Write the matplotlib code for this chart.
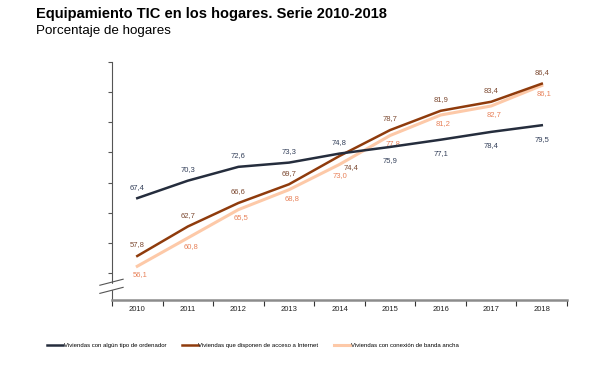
import matplotlib.pyplot as plt

years = [2010, 2011, 2012, 2013, 2014, 2015, 2016, 2017, 2018]
ordenador = [67.4, 70.3, 72.6, 73.3, 74.8, 75.9, 77.1, 78.4, 79.5]
internet = [57.8, 62.7, 66.6, 69.7, 74.4, 78.7, 81.9, 83.4, 86.4]
banda = [56.1, 60.8, 65.5, 68.8, 73.0, 77.8, 81.2, 82.7, 86.1]

names = ['Viviendas con algún tipo de ordenador',
         'Viviendas que disponen de acceso a Internet',
         'Viviendas con conexión de banda ancha']

c_dark = '#252d3d'
c_brown = '#8f3b0c'
c_peach = '#fdc9a8'

plt.rcParams['font.family'] = ['Liberation Sans', 'DejaVu Sans']

fig = plt.figure(figsize=(6.1, 3.75), dpi=100)
ax = fig.add_axes([0.1836, 0.2, 0.746, 0.6347])

ax.plot(years, banda, color=c_peach, lw=2.2, label=names[2], zorder=2)
ax.plot(years, internet, color=c_brown, lw=1.8, label=names[1], zorder=3)
ax.plot(years, ordenador, color=c_dark, lw=1.8, label=names[0], zorder=4)

ax.set_xlim(2009.5, 2018.5)
ax.set_ylim(50.5, 90)

def fmt(v):
    return ('%.1f' % v).replace('.', ',')

# data labels
for i, (x, v) in enumerate(zip(years, ordenador)):
    dy = 8 if x <= 2014 else -10
    ax.annotate(fmt(v), (x, v), xytext=(0, dy), textcoords='offset points',
                ha='center', va='center', fontsize=5.5, color='#34405a')
for x, v in zip(years, internet):
    if x == 2014:
        off = (8, -8)
    else:
        off = (0, 8)
    ax.annotate(fmt(v), (x, v), xytext=off, textcoords='offset points',
                ha='center', va='center', fontsize=5.5, color='#7d4a32')
for x, v in zip(years, banda):
    off = (2, -6) if x != 2014 else (0, -8)
    ax.annotate(fmt(v), (x, v), xytext=off, textcoords='offset points',
                ha='center', va='center', fontsize=5.5, color='#e8825a')

# axes styling
for s in ['top', 'right']:
    ax.spines[s].set_visible(False)
ax.spines['left'].set_color('#555555')
ax.spines['left'].set_linewidth(0.8)
ax.spines['bottom'].set_color('#8c8c8c')
ax.spines['bottom'].set_linewidth(1.8)

ax.set_yticks([55, 60, 65, 70, 75, 80, 85, 90])
ax.set_yticklabels([])
ax.tick_params(axis='y', length=3, width=0.8, color='#555555')

ax.set_xticks(years)
ax.set_xticklabels([str(y) for y in years], fontsize=5.5, color='#222222')
ax.set_xticks([y + 0.5 for y in years[:-1]] + [2009.5, 2018.5], minor=True)
ax.tick_params(axis='x', which='major', length=0, pad=4)
ax.tick_params(axis='x', which='minor', length=4, width=0.8, color='#333333')

# axis break marks
ax.fill_between([2009.45, 2009.55], 52.3, 53.2, color='white', zorder=5, clip_on=False)
ax.plot([2009.26, 2009.72], [52.95, 53.95], color='#555555', lw=0.8, clip_on=False, zorder=6)
ax.plot([2009.26, 2009.72], [51.6, 52.6], color='#555555', lw=0.8, clip_on=False, zorder=6)

# legend
handles, labels = ax.get_legend_handles_labels()
order = [2, 1, 0]
fig.legend([handles[i] for i in order], [labels[i] for i in order],
           loc='center left', bbox_to_anchor=(0.068, 0.08), ncol=3, frameon=False,
           fontsize=4.3, handlelength=2.7, handletextpad=0.1, columnspacing=2.6)

fig.text(0.059, 0.962, 'Equipamiento TIC en los hogares. Serie 2010-2018',
         fontsize=10.5, fontweight='bold', va='center')
fig.text(0.059, 0.917, 'Porcentaje de hogares', fontsize=9.6, va='center')

fig.savefig('out.png', dpi=100)
